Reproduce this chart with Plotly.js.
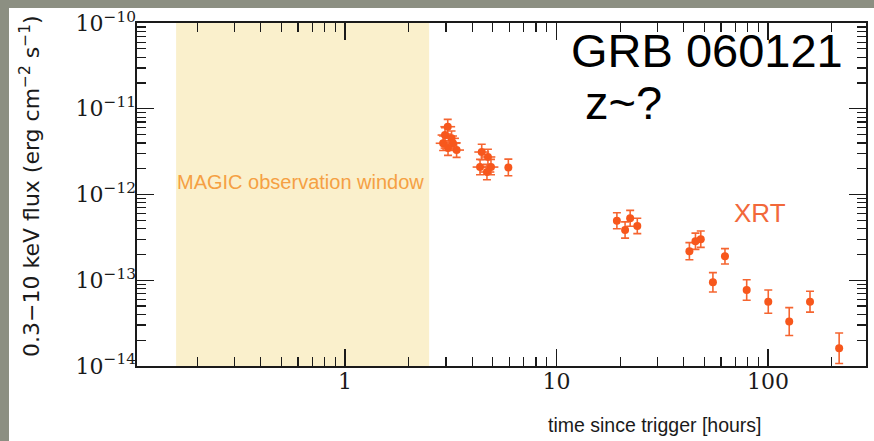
<!DOCTYPE html>
<html>
<head>
<meta charset="utf-8">
<script src="https://cdn.plot.ly/plotly-3.0.1.min.js"></script>
<style>
  html, body { margin: 0; padding: 0; background: #8c8f82; width: 874px; height: 441px; overflow: hidden; }
  #chart { position: absolute; left: 9px; top: 8px; width: 865px; height: 433px; }
</style>
</head>
<body>
<div id="chart"></div>
<script>
// ---- data ----
const timeHours = [2.91, 3.06, 2.97, 3.19, 3.24, 3.37, 3.07,
                   4.43, 4.74, 4.35, 4.90, 4.69, 5.92,
                   19.3, 21.1, 22.3, 24.1,
                   42.5, 45.4, 48.1, 54.9, 62.6, 79.3, 100.3, 126, 158, 217];
const fluxXRT = [3.96e-12, 6.18e-12, 4.94e-12, 4.52e-12, 3.96e-12, 3.30e-12, 3.48e-12,
                 3.13e-12, 2.74e-12, 2.09e-12, 2.09e-12, 1.83e-12, 2.07e-12,
                 4.94e-13, 3.85e-13, 5.27e-13, 4.30e-13,
                 2.18e-13, 2.85e-13, 3.01e-13, 9.46e-14, 1.90e-13, 7.69e-14, 5.62e-14, 3.29e-14, 5.62e-14, 1.61e-14];
// vertical error half-size in decades (log10)
const fluxErrDex = [0.085, 0.085, 0.085, 0.085, 0.085, 0.085, 0.085,
                    0.09, 0.09, 0.09, 0.09, 0.09, 0.097,
                    0.093, 0.095, 0.093, 0.09,
                    0.10, 0.095, 0.095, 0.113, 0.09, 0.12, 0.136, 0.163, 0.122, 0.178];
// horizontal (time bin) half-size in decades
const timeErrDex = [0.035, 0.035, 0.035, 0.035, 0.035, 0.035, 0.035,
                    0.035, 0.035, 0.035, 0.035, 0.035, 0,
                    0, 0, 0, 0,
                    0, 0, 0, 0, 0, 0, 0, 0, 0, 0];
const magicWindow = [0.159, 2.5];          // hours
const fluxLimits = [1e-14, 1e-10];         // axis extent
const xTickVals = [1, 10, 100];
const xTickText = ['1', '10', '100'];
const yTickVals = [1e-14, 1e-13, 1e-12, 1e-11, 1e-10];
const yTickText = ['10<sup>−14</sup>', '10<sup>−13</sup>', '10<sup>−12</sup>', '10<sup>−11</sup>', '10<sup>−10</sup>'];
const xDecades = [0.1, 1, 10, 100];
const yDecades = [1e-14, 1e-13, 1e-12, 1e-11];
const minorMultiples = [2, 3, 4, 5, 6, 7, 8, 9];

// ---- derived ----
const ptColor = '#f7571c';
const barColor = '#f56530';
const ink = '#1a1a1a';
const xRange = [-0.9835, 2.4634];
const yRange = [-14.001, -9.999];

const errUp = fluxXRT.map((f, i) => f * (Math.pow(10, fluxErrDex[i]) - 1));
const errDn = fluxXRT.map((f, i) => f * (1 - Math.pow(10, -fluxErrDex[i])));
const xErrUp = timeHours.map((t, i) => t * (Math.pow(10, timeErrDex[i]) - 1));
const xErrDn = timeHours.map((t, i) => t * (1 - Math.pow(10, -timeErrDex[i])));
const inRange = (v, r) => Math.log10(v) > r[0] && Math.log10(v) < r[1];
const xMinor = [];
xDecades.forEach(d => minorMultiples.forEach(m => { if (inRange(d * m, xRange)) xMinor.push(d * m); }));
const yMinor = [];
yDecades.forEach(d => minorMultiples.forEach(m => { if (inRange(d * m, yRange)) yMinor.push(d * m); }));

const bandTrace = {
  x: [magicWindow[0], magicWindow[1], magicWindow[1], magicWindow[0], magicWindow[0]],
  y: [fluxLimits[0], fluxLimits[0], fluxLimits[1], fluxLimits[1], fluxLimits[0]],
  type: 'scatter', mode: 'lines', fill: 'toself', fillcolor: '#faf0cc',
  line: { width: 0, color: '#faf0cc' }, hoverinfo: 'skip'
};

const dataTrace = {
  x: timeHours, y: fluxXRT, type: 'scatter', mode: 'markers',
  marker: { color: ptColor, size: 8 },
  error_y: { type: 'data', symmetric: false, array: errUp, arrayminus: errDn,
             color: barColor, thickness: 1.6, width: 4 },
  error_x: { type: 'data', symmetric: false, array: xErrUp, arrayminus: xErrDn,
             color: barColor, thickness: 1.6, width: 0 },
  hoverinfo: 'x+y'
};

// invisible copies on the overlay axes (minor ticks; tick labels)
const minorAxisTrace = {
  x: timeHours, y: fluxXRT, type: 'scatter', mode: 'markers', xaxis: 'x2', yaxis: 'y2',
  marker: { opacity: 0, size: 1 }, hoverinfo: 'skip'
};
const labelAxisTrace = {
  x: timeHours, y: fluxXRT, type: 'scatter', mode: 'markers', xaxis: 'x3', yaxis: 'y3',
  marker: { opacity: 0, size: 1 }, hoverinfo: 'skip'
};

const labelFont = { family: 'DejaVu Serif', size: 22, color: ink };

const layout = {
  width: 865, height: 433,
  margin: { l: 128, r: 8, t: 15, b: 75 },
  paper_bgcolor: '#ffffff', plot_bgcolor: '#ffffff',
  showlegend: false,
  xaxis: {
    type: 'log', range: xRange,
    showgrid: false, zeroline: false, showline: true, linecolor: ink, linewidth: 1.6,
    mirror: 'ticks', ticks: 'inside', ticklen: 17, tickwidth: 1.3, tickcolor: ink,
    tickmode: 'array', tickvals: xTickVals, showticklabels: false
  },
  yaxis: {
    type: 'log', range: yRange,
    showgrid: false, zeroline: false, showline: true, linecolor: ink, linewidth: 1.6,
    mirror: 'ticks', ticks: 'inside', ticklen: 17, tickwidth: 1.3, tickcolor: ink,
    tickmode: 'array', tickvals: yTickVals, showticklabels: false
  },
  xaxis2: {
    type: 'log', range: xRange, overlaying: 'x', anchor: 'y2', side: 'bottom',
    showgrid: false, zeroline: false, showline: true, linecolor: ink, linewidth: 1.6,
    showticklabels: false,
    mirror: 'ticks', ticks: 'inside', ticklen: 9, tickwidth: 1.2, tickcolor: ink,
    tickmode: 'array', tickvals: xMinor
  },
  yaxis2: {
    type: 'log', range: yRange, overlaying: 'y', anchor: 'x2', side: 'left',
    showgrid: false, zeroline: false, showline: true, linecolor: ink, linewidth: 1.6,
    showticklabels: false,
    mirror: 'ticks', ticks: 'inside', ticklen: 9, tickwidth: 1.2, tickcolor: ink,
    tickmode: 'array', tickvals: yMinor
  },
  xaxis3: {
    type: 'log', range: xRange, overlaying: 'x', anchor: 'y3', side: 'bottom',
    showgrid: false, zeroline: false, showline: false, ticks: '',
    tickmode: 'array', tickvals: xTickVals, ticktext: xTickText, tickfont: labelFont
  },
  yaxis3: {
    type: 'log', range: yRange, overlaying: 'y', anchor: 'x3', side: 'left',
    showgrid: false, zeroline: false, showline: false, ticks: '',
    tickmode: 'array', tickvals: yTickVals, ticktext: yTickText, tickfont: labelFont,
    ticklabeloverflow: 'allow'
  },
  annotations: [
    { text: 'GRB 060121', xref: 'paper', yref: 'paper', x: 0.592, y: 0.921,
      xanchor: 'left', yanchor: 'middle', showarrow: false,
      font: { family: 'Liberation Sans', size: 47, color: '#000000' } },
    { text: 'z~?', xref: 'paper', yref: 'paper', x: 0.6118, y: 0.7668,
      xanchor: 'left', yanchor: 'middle', showarrow: false,
      font: { family: 'Liberation Sans', size: 47, color: '#000000' } },
    { text: 'MAGIC observation window', xref: 'paper', yref: 'paper', x: 0.2236, y: 0.5364,
      xanchor: 'center', yanchor: 'middle', showarrow: false,
      font: { family: 'Liberation Sans', size: 20, color: '#f5a043' } },
    { text: 'XRT', xref: 'paper', yref: 'paper', x: 0.8546, y: 0.446,
      xanchor: 'center', yanchor: 'middle', showarrow: false,
      font: { family: 'Liberation Sans', size: 26, color: '#f2683a' } },
    { text: 'time since trigger [hours]', xref: 'paper', yref: 'paper', x: 0.7106, y: -0.172,
      xanchor: 'center', yanchor: 'middle', showarrow: false,
      font: { family: 'Liberation Sans', size: 19.5, color: ink } },
    { text: '0.3−10 keV flux (erg cm<sup>−2</sup> s<sup>−1</sup>)', xref: 'paper', yref: 'paper',
      x: -0.1468, y: 0.525, textangle: -90,
      xanchor: 'center', yanchor: 'middle', showarrow: false,
      font: { family: 'DejaVu Sans', size: 22, color: ink } }
  ]
};

Plotly.newPlot('chart', [bandTrace, dataTrace, minorAxisTrace, labelAxisTrace], layout, { displayModeBar: false, staticPlot: true });
</script>
</body>
</html>
